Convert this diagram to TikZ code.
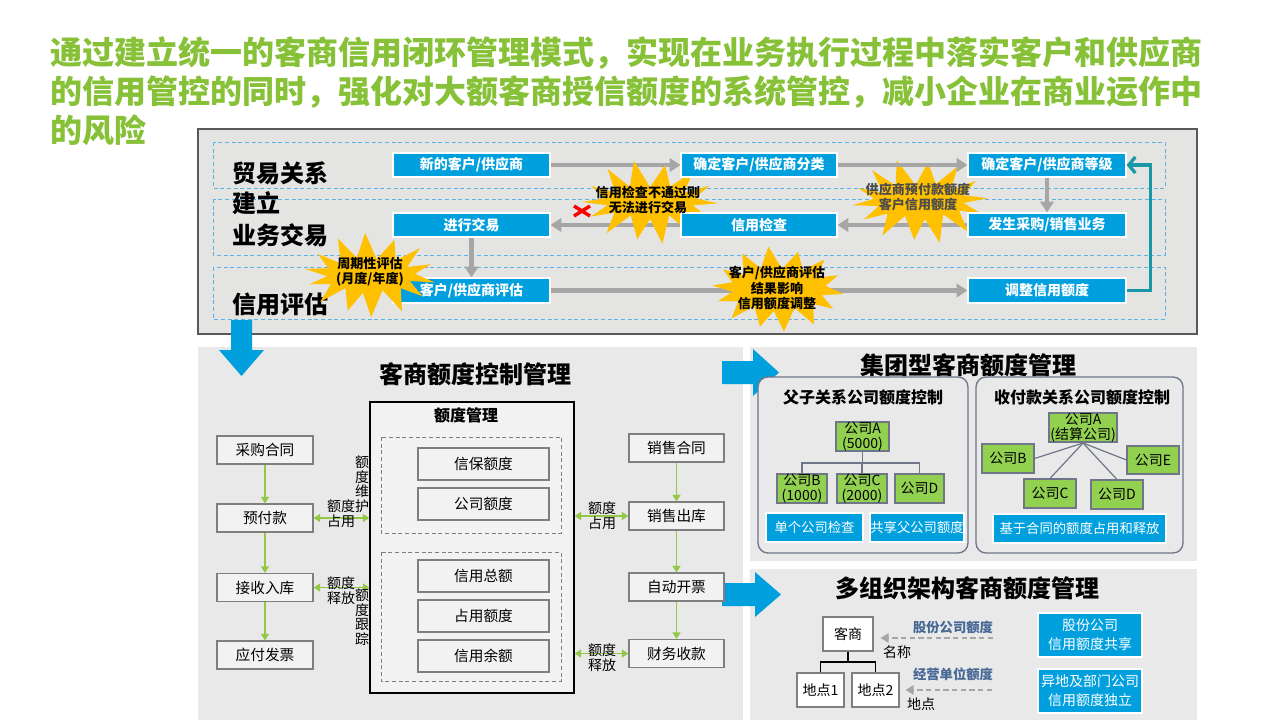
\documentclass[tikz,border=0pt]{standalone}
\usepackage{fontspec}
\setmainfont{Noto Sans CJK SC}
\usetikzlibrary{arrows.meta,calc}
\pgfdeclarelayer{bg}
\pgfdeclarelayer{arr}
\pgfdeclarelayer{st}
\pgfdeclarelayer{fg}
\pgfdeclarelayer{top}
\pgfsetlayers{bg,arr,st,main,fg,top}
\newdimen\px \px=0.75pt
\definecolor{tgreen}{RGB}{134,193,55}
\definecolor{bblue}{RGB}{0,160,223}
\definecolor{pgray}{RGB}{228,228,226}
\definecolor{qgray}{RGB}{233,233,233}
\definecolor{agray}{RGB}{166,166,166}
\definecolor{tealc}{RGB}{24,152,166}
\definecolor{starc}{RGB}{255,192,0}
\definecolor{rowc}{RGB}{91,178,230}
\definecolor{gbox}{RGB}{146,208,80}
\definecolor{agreen}{RGB}{146,200,70}
\definecolor{bord}{RGB}{110,118,135}
\definecolor{lblc}{RGB}{72,104,150}
\definecolor{boxf}{RGB}{242,242,242}
\definecolor{boxd}{RGB}{127,127,127}
\definecolor{pbord}{RGB}{89,89,89}
\tikzset{
 ttl/.style={font=\bfseries\fontsize{24}{29}\selectfont, text=tgreen, inner sep=0pt},
 rowl/.style={font=\bfseries\fontsize{18}{20}\selectfont, anchor=west, inner sep=0pt},
 wh/.style 2 args={minimum width=#1\px, minimum height=#2\px},
 bbox/.style={fill=bblue, draw=white, line width=0.9pt, text=white, font=\bfseries\fontsize{10.5}{12}\selectfont, inner sep=0pt},
 btext/.style={text=white, font=\bfseries\fontsize{10.5}{12}\selectfont, inner sep=0pt},
 garr/.style={draw=agray, line width=3.4pt, -{Triangle[length=8pt,width=10pt]}},
 sttext/.style={font=\bfseries\fontsize{9.8}{11.6}\selectfont, align=center, inner sep=0pt},
 sect/.style={font=\bfseries\fontsize{18}{20}\selectfont, inner sep=0pt},
 wbox/.style={fill=boxf, draw=boxd, line width=0.8pt, font=\fontsize{11}{13}\selectfont, inner sep=0pt},
 gar/.style={draw=agreen, line width=1.1pt, -{Triangle[length=5pt,width=6pt]}},
 dgar/.style={draw=agreen, line width=1.1pt, {Triangle[length=5pt,width=6pt]}-{Triangle[length=5pt,width=6pt]}},
 lbl/.style={font=\fontsize{10.5}{11.2}\selectfont, align=center, inner sep=0pt},
 gnode/.style={fill=gbox, draw=bord, line width=0.8pt, font=\fontsize{10.5}{11}\selectfont, align=center, inner sep=0pt},
 sbb/.style={fill=bblue, draw=white, line width=0.9pt, text=white, font=\fontsize{10}{12.5}\selectfont, align=center, inner sep=0pt},
 tline/.style={draw=bord, line width=0.9pt},
 rnd/.style={draw=bord, line width=1pt, rounded corners=7.5pt, fill=qgray},
 subt/.style={font=\bfseries\fontsize{12}{14}\selectfont, inner sep=0pt},
 darr/.style={draw=agray, line width=1.3pt, dash pattern=on 4pt off 2.5pt, -{Triangle[length=6pt,width=7pt]}},
 rowd/.style={draw=rowc, line width=0.7pt, dash pattern=on 3pt off 2pt},
}
% starburst: cx cy rxi ryi h angle-offset
\newcommand\burst[6]{%
\begin{scope}[shift={(#1,#2)}]
\fill[starc] ({cos(2+#6)*(#3+#5)},{sin(2+#6)*(#4+#5)})
 \foreach \a/\f [evaluate=\a as \xx using {cos(\a+#6)*(#3+#5*\f)}, evaluate=\a as \yy using {sin(\a+#6)*(#4+#5*\f)}] in
 {13/-.1, 26/.9, 38/0, 53/1.1, 64/-.1, 80/1.15, 90/0, 101/.95, 116/-.1, 129/1.05, 141/0, 156/.85, 167/-.1, 180/1, 193/0, 206/.9, 218/-.1, 233/1.1, 244/0, 257/1.15, 270/-.1, 283/.95, 296/0, 309/1.05, 321/-.1, 334/.9, 347/0}
 { -- (\xx,\yy) } -- cycle;
\end{scope}}
\begin{document}
\begin{tikzpicture}[x=0.75pt,y=-0.75pt]
\useasboundingbox (0,0) rectangle (1280,720);
\begin{pgfonlayer}{bg}
\fill[white] (0,0) rectangle (1280,720);
% ---------- panels
\filldraw[fill=pgray, draw=pbord, line width=0.9pt] (198,129) rectangle (1197,334);
\fill[qgray] (198,347) rectangle (743,720);
\fill[qgray] (750,347) rectangle (1197,561);
\fill[qgray] (750,569) rectangle (1197,720);
% ---------- rows
\draw[rowd] (213,142) rectangle (1165,188);
\draw[rowd] (213,199) rectangle (1165,255);
\draw[rowd] (213,267) rectangle (1165,319);
\end{pgfonlayer}

% ---------- title
\node[ttl, anchor=base west] (t1) at (50,65) {通过建立统一的客商信用闭环管理模式，实现在业务执行过程中落实客户和供应商};
\node[ttl, anchor=base west] (t2) at (50,104) {的信用管控的同时，强化对大额客商授信额度的系统管控，减小企业在商业运作中};
\node[ttl, anchor=base west] (t3) at (50,143) {的风险};

\node[rowl] (r1) at (232,173) {贸易关系};
\node[rowl] (r1b) at (232,203) {建立};
\node[rowl] (r2) at (232,235) {业务交易};
\node[rowl] (r3) at (232,304) {信用评估};

% ---------- top boxes
\node[bbox, wh={157}{24}] (n1) at (471.5,165) {新的客户/供应商};
\node[bbox, wh={156}{24}] (n2) at (759,165) {确定客户/供应商分类};
\node[bbox, wh={158}{24}] (n3) at (1047,165) {确定客户/供应商等级};
\node[bbox, wh={157}{24}] (n4) at (471.5,225) {进行交易};
\node[bbox, wh={156}{24}] (n5) at (759,225) {信用检查};
\node[bbox, wh={158}{24}] (n6) at (1047,225) {发生采购/销售业务};
\node[bbox, wh={157}{25}] (n7) at (471.5,290.5) {};
\node[bbox, wh={158}{25}] (n8) at (1047,290.5) {调整信用额度};

\begin{pgfonlayer}{arr}
\draw[garr] (n1) -- (n2);
\draw[garr] (n3) -- (n6);
\draw[garr] (n6) -- (n5);
\draw[garr] (n5) -- (n4);
\draw[garr] (n4) -- (n7);
\draw[garr] (n7) -- (n8);
\end{pgfonlayer}
\draw[garr] (n2) -- (n3);
\draw[draw=tealc, line width=2.4pt, -{Straight Barb[length=5pt,width=12pt]}] (n8.east) -- ++(24,0) |- (n3.east);

% ---------- stars
\begin{pgfonlayer}{st}
\burst{650}{202}{46}{17}{22}{0}
\burst{920}{201}{46}{18}{22}{-6}
\burst{778}{289}{48}{22}{18}{5}
\end{pgfonlayer}
\begin{pgfonlayer}{fg}
\burst{370}{275}{45}{18}{21}{9}
\end{pgfonlayer}

% ---------- star texts
\begin{pgfonlayer}{top}
\node[btext] (n7t) at (n7.center) {客户/供应商评估};
\node[sttext] (s1) at (648,200) {信用检查不通过则\\无法进行交易};
\node[sttext] (s2) at (370,272) {周期性评估\\(月度/年度)};
\node[sttext, text=black!70] (s3) at (918,197) {供应商预付款额度\\客户信用额度};
\node[sttext] (s4) at (777,288) {客户/供应商评估\\结果影响\\信用额度调整};
\coordinate (xc) at (582,211);
\draw[red, line width=2.6pt] ($(xc)+(-8,-5)$) -- ($(xc)+(8,5)$);
\draw[red, line width=2.6pt] ($(xc)+(-8,5)$) -- ($(xc)+(8,-5)$);
\end{pgfonlayer}

% ---------- blue block arrows
\fill[bblue] (231,320) -- (252,320) -- (252,350) -- (264,350) -- (241.5,376) -- (219,350) -- (231,350) -- cycle;
\fill[bblue] (722,361) -- (753,361) -- (753,349) -- (779,372.5) -- (753,396) -- (753,384) -- (722,384) -- cycle;
\fill[bblue] (722,583) -- (755,583) -- (755,572) -- (781,594.5) -- (755,617) -- (755,606) -- (722,606) -- cycle;

% ---------- bottom-left
\node[sect] (h1) at (475,374) {客商额度控制管理};
\node[draw=black, line width=0.8pt, fill=boxf, wh={204}{291}, inner sep=0pt] (M) at (472,547.5) {};
\node[subt] (mt) at (466,415) {额度管理};
\draw[draw=boxd, line width=0.7pt, dash pattern=on 3pt off 2pt] (381,437) rectangle (561,533);
\draw[draw=boxd, line width=0.7pt, dash pattern=on 3pt off 2pt] (381,552) rectangle (561,681);
\node[wbox, wh={131}{32}] (i1) at (483.5,464) {信保额度};
\node[wbox, wh={131}{32}] (i2) at (483.5,504) {公司额度};
\node[wbox, wh={131}{32}] (i3) at (483.5,576) {信用总额};
\node[wbox, wh={131}{32}] (i4) at (483.5,616) {占用额度};
\node[wbox, wh={131}{32}] (i5) at (483.5,656) {信用余额};

\node[wbox, wh={96}{28}] (l1) at (265,450) {采购合同};
\node[wbox, wh={96}{28}] (l2) at (265,518) {预付款};
\node[wbox, wh={96}{28}] (l3) at (265,587.5) {接收入库};
\node[wbox, wh={96}{28}] (l4) at (265,655) {应付发票};
\node[wbox, wh={95}{28}] (q1) at (676.5,448) {销售合同};
\node[wbox, wh={95}{28}] (q2) at (676.5,516) {销售出库};
\node[wbox, wh={95}{28}] (q3) at (676.5,587) {自动开票};
\node[wbox, wh={95}{28}] (q4) at (676.5,653.5) {财务收款};
\draw[gar] (l1) -- (l2);
\draw[gar] (l2) -- (l3);
\draw[gar] (l3) -- (l4);
\draw[gar] (q1) -- (q2);
\draw[gar] (q2) -- (q3);
\draw[gar] (q3) -- (q4);
\draw[dgar] (l2.east) -- (l2.east -| M.west);
\draw[dgar] (l3.east) -- (l3.east -| M.west);
\draw[dgar] (q2.west -| M.east) -- (q2.west);
\draw[dgar] (q4.west -| M.east) -- (q4.west);
\node[lbl, font=\fontsize{10.5}{10.9}\selectfont] (v1) at (362,484) {额\\度\\维\\护};
\node[lbl, font=\fontsize{10.5}{10.9}\selectfont] (v2) at (362,617) {额\\度\\跟\\踪};
\node[lbl] (a1) at (341,514) {额度\\占用};
\node[lbl] (a2) at (341,591) {额度\\释放};
\node[lbl] (a3) at (602,515.5) {额度\\占用};
\node[lbl] (a4) at (602,658) {额度\\释放};

% ---------- top-right: group
\node[sect] (h2) at (968,365) {集团型客商额度管理};
\draw[rnd] (758,377) rectangle (968,553);
\draw[rnd] (976,377) rectangle (1183,553);
\node[subt] (st1) at (863,397) {父子关系公司额度控制};
\node[subt] (st2) at (1082,397) {收付款关系公司额度控制};
\node[gnode, wh={53}{29}] (gA) at (862.5,436.5) {公司A\\(5000)};
\node[gnode, wh={50}{29}] (gB) at (802,488.5) {公司B\\(1000)};
\node[gnode, wh={50}{29}] (gC) at (862,488.5) {公司C\\(2000)};
\node[gnode, wh={49}{29}] (gD) at (919.5,488.5) {公司D};
\coordinate (gj) at (862.5,463);
\draw[tline] (gA.south) -- (gj);
\draw[tline] (gB.north) -- (gB.north |- gj) -- (gD.north |- gj) -- (gD.north);
\draw[tline] (gC.north) -- (gC.north |- gj);
\node[sbb, wh={97}{29}] (b1) at (814.5,527.5) {单个公司检查};
\node[sbb, wh={94}{29}] (b2) at (917,527.5) {共享父公司额度};

\node[gnode, wh={68}{29}] (hA) at (1083,427.5) {公司A\\(结算公司)};
\node[gnode, wh={52}{29}] (hB) at (1008,458.5) {公司B};
\node[gnode, wh={52}{28}] (hE) at (1153,460) {公司E};
\node[gnode, wh={52}{29}] (hC) at (1050,493.5) {公司C};
\node[gnode, wh={52}{29}] (hD) at (1117,494.5) {公司D};
\coordinate (hp) at (1083,443);
\draw[tline] (hp) -- (hB.east);
\draw[tline] (hp) -- (hE.west);
\draw[tline] (hp) -- (hC.north);
\draw[tline] (hp) -- (hD.north);
\node[sbb, wh={173}{29}] (b3) at (1079.5,528.5) {基于合同的额度占用和释放};

% ---------- bottom-right: multi-org
\node[sect] (h3) at (967,588) {多组织架构客商额度管理};
\node[fill=white, draw=boxd, line width=0.8pt, wh={50}{34}, font=\fontsize{10.5}{12}\selectfont, inner sep=0pt] (k) at (848,634) {客商};
\node[fill=white, draw=boxd, line width=0.8pt, wh={47}{34}, font=\fontsize{10.5}{12}\selectfont, inner sep=0pt] (d1) at (820.5,690) {地点1};
\node[fill=white, draw=boxd, line width=0.8pt, wh={47}{34}, font=\fontsize{10.5}{12}\selectfont, inner sep=0pt] (d2) at (875.5,690) {地点2};
\coordinate (kj) at (848,662);
\draw[draw=black, line width=0.8pt] (k.south) -- (kj);
\draw[draw=black, line width=0.8pt] (d1.north) -- (d1.north |- kj) -- (d2.north |- kj) -- (d2.north);
\coordinate (c1) at (993,638);
\coordinate (c3) at (992,690);
\draw[darr, shorten >=5.25pt] (c1) -- (c1 -| k.east);
\draw[darr, shorten >=4.5pt] (c3) -- (c3 -| d2.east);
\node[lbl, font=\bfseries\fontsize{10}{12}\selectfont, text=lblc] (m1) at (953,627) {股份公司额度};
\node[lbl] (m2) at (897,652) {名称};
\node[lbl, font=\bfseries\fontsize{10}{12}\selectfont, text=lblc] (m3) at (953,674) {经营单位额度};
\node[lbl] (m4) at (921,704) {地点};
\node[sbb, wh={104}{44}, font=\fontsize{10.5}{14}\selectfont] (b4) at (1090,635) {股份公司\\信用额度共享};
\node[sbb, wh={104}{44}, font=\fontsize{10.5}{14}\selectfont] (b5) at (1090,691) {异地及部门公司\\信用额度独立};
\end{tikzpicture}
\end{document}
